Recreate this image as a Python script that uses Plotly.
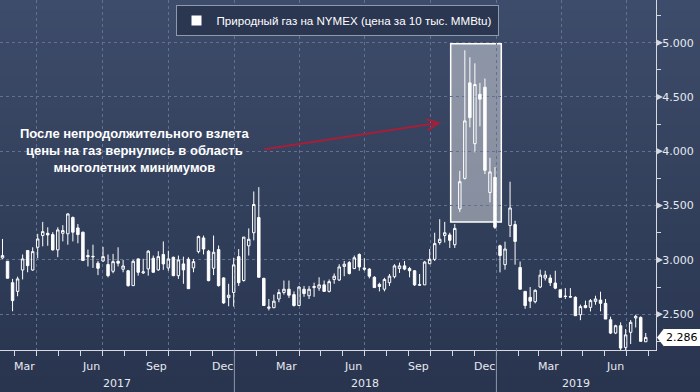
import base64, struct, zlib
import pandas as pd
import plotly.graph_objects as go

# ---------------- data (weekly NYMEX natural gas) ----------------
first_week = "2017-02-12"
open_ = [3.018, 2.987, 2.79, 2.71, 2.907, 3.086, 2.907, 3.116, 3.224, 3.245,
         3.233, 3.092, 3.245, 3.24, 3.39, 3.294, 3.255, 3.04, 3.028, 2.97,
         2.99, 2.957, 2.895, 2.987, 2.914, 2.90, 2.763, 3.009, 2.88, 2.917,
         3.015, 2.908, 3.05, 2.926, 3.024, 2.855, 2.963, 3.006, 2.926, 3.076,
         3.202, 3.08, 2.923, 3.095, 2.834, 2.653, 2.70, 3.03, 2.81, 3.13,
         3.25, 3.39, 2.83, 2.555, 2.56, 2.64, 2.70, 2.73, 2.68, 2.58,
         2.73, 2.67, 2.745, 2.74, 2.77, 2.71, 2.82, 2.815, 2.94, 2.975,
         2.92, 3.05, 2.925, 2.915, 2.84, 2.775, 2.73, 2.79, 2.845, 2.92,
         2.945, 2.92, 2.90, 2.772, 2.77, 2.965, 3.005, 3.16, 3.225, 3.23,
         3.14, 3.47, 3.75, 4.63, 4.07, 4.525, 4.59, 3.62, 3.76, 3.13,
         2.956, 3.316, 3.325, 2.93, 2.71, 2.655, 2.615, 2.75, 2.833, 2.833,
         2.787, 2.725, 2.667, 2.662, 2.655, 2.495, 2.58, 2.563, 2.618, 2.63,
         2.60, 2.449, 2.326, 2.394, 2.194, 2.333, 2.465, 2.47, 2.246]
high = [3.193, 2.99, 2.825, 2.846, 3.05, 3.086, 3.116, 3.24, 3.35, 3.30,
        3.255, 3.30, 3.32, 3.43, 3.40, 3.33, 3.26, 3.095, 3.14, 2.99,
        3.12, 3.05, 3.055, 3.116, 3.0, 2.908, 3.0, 3.015, 3.01, 3.09,
        3.04, 3.08, 3.17, 3.085, 3.03, 3.04, 3.03, 3.024, 3.009, 3.224,
        3.224, 3.092, 3.224, 3.132, 2.84, 2.78, 3.02, 3.10, 3.21, 3.29,
        3.63, 3.67, 2.835, 2.64, 2.68, 2.73, 2.81, 2.81, 2.71, 2.76,
        2.76, 2.76, 2.79, 2.84, 2.81, 2.82, 2.875, 2.96, 2.99, 2.99,
        3.04, 3.06, 3.015, 2.925, 2.85, 2.79, 2.835, 2.87, 2.96, 2.975,
        2.99, 2.935, 2.905, 2.87, 2.99, 3.10, 3.25, 3.375, 3.35, 3.25,
        3.33, 3.82, 4.93, 4.865, 4.81, 4.63, 4.67, 3.94, 3.855, 3.14,
        3.168, 3.72, 3.36, 2.985, 2.71, 2.75, 2.73, 2.91, 2.90, 2.864,
        2.90, 2.725, 2.74, 2.74, 2.665, 2.588, 2.625, 2.64, 2.67, 2.707,
        2.64, 2.477, 2.403, 2.425, 2.363, 2.446, 2.495, 2.48, 2.327]
low = [3.009, 2.83, 2.527, 2.665, 2.82, 2.886, 2.90, 3.015, 3.125, 3.13,
       3.086, 3.025, 3.17, 3.14, 3.17, 3.153, 2.99, 2.94, 2.926, 2.86,
       2.98, 2.84, 2.877, 2.94, 2.886, 2.754, 2.76, 2.855, 2.87, 2.855,
       2.885, 2.90, 2.908, 2.90, 2.85, 2.825, 2.78, 2.733, 2.886, 3.06,
       3.05, 2.803, 2.86, 2.754, 2.595, 2.573, 2.57, 2.76, 2.80, 3.04,
       3.18, 2.84, 2.58, 2.535, 2.555, 2.61, 2.68, 2.65, 2.57, 2.575,
       2.66, 2.64, 2.66, 2.715, 2.71, 2.70, 2.78, 2.805, 2.85, 2.865,
       2.915, 2.90, 2.90, 2.83, 2.745, 2.71, 2.71, 2.76, 2.83, 2.88,
       2.905, 2.84, 2.76, 2.76, 2.77, 2.96, 2.99, 3.14, 3.16, 3.11,
       3.11, 3.44, 3.74, 4.22, 3.99, 4.23, 3.79, 3.53, 3.285, 2.885,
       2.91, 3.21, 2.956, 2.73, 2.55, 2.556, 2.60, 2.74, 2.81, 2.76,
       2.73, 2.655, 2.64, 2.655, 2.486, 2.445, 2.555, 2.525, 2.587, 2.526,
       2.455, 2.317, 2.317, 2.16, 2.16, 2.225, 2.378, 2.25, 2.246]
close = [3.04, 2.831, 2.625, 2.825, 3.009, 2.947, 3.076, 3.193, 3.26, 3.23,
         3.092, 3.276, 3.27, 3.423, 3.255, 3.233, 2.994, 3.03, 3.032, 2.923,
         3.03, 2.855, 2.984, 2.97, 2.944, 2.763, 2.987, 2.886, 2.89, 3.08,
         2.886, 3.03, 2.963, 3.009, 2.855, 3.0, 2.908, 2.735, 2.984, 3.215,
         3.10, 2.809, 3.07, 2.763, 2.604, 2.675, 2.954, 2.79, 3.21, 3.19,
         3.51, 2.84, 2.58, 2.565, 2.62, 2.70, 2.73, 2.675, 2.58, 2.75,
         2.69, 2.73, 2.755, 2.77, 2.71, 2.80, 2.85, 2.935, 2.96, 2.875,
         3.02, 2.935, 2.915, 2.85, 2.745, 2.755, 2.82, 2.85, 2.945, 2.945,
         2.915, 2.90, 2.77, 2.768, 2.98, 3.005, 3.15, 3.19, 3.25, 3.18,
         3.29, 3.72, 4.28, 4.31, 4.615, 4.48, 3.825, 3.81, 3.30, 3.04,
         3.10, 3.478, 3.17, 2.73, 2.58, 2.62, 2.72, 2.86, 2.86, 2.79,
         2.74, 2.655, 2.663, 2.658, 2.486, 2.57, 2.56, 2.625, 2.64, 2.60,
         2.455, 2.326, 2.394, 2.188, 2.31, 2.425, 2.48, 2.25, 2.286]
weeks = pd.date_range(first_week, periods=len(close), freq="7D")

y_ticks = [2.5, 3.0, 3.5, 4.0, 4.5, 5.0]
y_minor = [2.25, 2.75, 3.25, 3.75, 4.25, 4.75, 5.25]
month_labels = ["Mar", "Jun", "Sep", "Dec", "Mar", "Jun", "Sep", "Dec", "Mar", "Jun"]
month_dates = ["2017-03-15", "2017-06-15", "2017-09-15", "2017-12-15", "2018-03-15",
               "2018-06-15", "2018-09-15", "2018-12-15", "2019-03-15", "2019-06-15"]
year_labels = ["2017", "2018", "2019"]
year_starts = ["2018-01-01", "2019-01-01"]
legend_name = "Природный газ на NYMEX (цена за 10 тыс. MMBtu)"
note_text = ("После непродолжительного взлета<br>цены на газ вернулись в область"
             "<br>многолетних минимумов")
last_price = close[-1]
spike_box = dict(x0="2018-10-29 07:00", x1="2019-01-07 19:00", y0=3.35, y1=4.99)

X_RANGE = ["2017-02-08 12:00", "2019-08-11 07:00"]
Y_RANGE = [2.1703, 5.393]

FONT = "DejaVu Sans, Liberation Sans, sans-serif"
TXT = "#e6e9f0"
AXC = "#d6d9e0"
GRID = "#617191"


# ---------------- background gradient (tiny PNG) ----------------
def gradient_png(h, top, bot):
    raw = b""
    for i in range(h):
        t = i / (h - 1)
        raw += b"\x00" + bytes(int(round(a + (b - a) * t)) for a, b in zip(top, bot))

    def chunk(tag, data):
        return (struct.pack(">I", len(data)) + tag + data +
                struct.pack(">I", zlib.crc32(tag + data) & 0xFFFFFFFF))

    png = (b"\x89PNG\r\n\x1a\n" +
           chunk(b"IHDR", struct.pack(">IIBBBBB", 1, h, 8, 2, 0, 0, 0)) +
           chunk(b"IDAT", zlib.compress(raw)) + chunk(b"IEND", b""))
    return "data:image/png;base64," + base64.b64encode(png).decode()


bg_src = gradient_png(64, (61, 76, 106), (41, 53, 79))

fig = go.Figure()
fig.add_trace(go.Candlestick(
    x=weeks, open=open_, high=high, low=low, close=close,
    increasing=dict(line=dict(color="white", width=1), fillcolor="rgba(0,0,0,0)"),
    decreasing=dict(line=dict(color="white", width=1), fillcolor="white"),
    whiskerwidth=0, showlegend=False, hoverinfo="skip"))
fig.add_trace(go.Scatter(
    x=[None], y=[None], mode="markers", name=legend_name,
    marker=dict(symbol="square", size=10, color="white")))


def py(v):
    return (v - Y_RANGE[0]) / (Y_RANGE[1] - Y_RANGE[0])


PW = 656.0
PH = 350.0
shapes = []
shapes.append(dict(type="rect", xref="x", yref="y", layer="below",
                   fillcolor="rgba(255,255,255,0.42)",
                   line=dict(color="white", width=1.5), **spike_box))
for ys in year_starts:
    shapes.append(dict(type="line", xref="x", yref="paper", x0=ys, x1=ys,
                       y0=0, y1=-42 / PH, line=dict(color="#8d96a8", width=1)))
for v in y_ticks:
    yc = py(v)
    dy = 3.5 / PH
    shapes.append(dict(type="path", xref="paper", yref="paper",
                       path=f"M 1,{yc + dy} L {1 + 7 / PW},{yc} L 1,{yc - dy} Z",
                       fillcolor=AXC, line=dict(width=0)))
yc = py(last_price)
shapes.append(dict(type="path", xref="paper", yref="paper",
                   path=f"M {1 + 1 / PW},{yc} L {1 + 8 / PW},{yc + 9 / PH} "
                        f"L {1 + 8 / PW},{yc - 9 / PH} Z",
                   fillcolor="white", line=dict(width=0)))

annotations = []
for lab, d in zip(month_labels, month_dates):
    annotations.append(dict(x=d, y=-17 / PH, xref="x", yref="paper", text=lab,
                            showarrow=False, xanchor="center", yanchor="middle",
                            font=dict(family=FONT, size=11, color=TXT)))
bounds = [pd.Timestamp(X_RANGE[0])] + [pd.Timestamp(s) for s in year_starts] + \
         [pd.Timestamp(X_RANGE[1])]
for i, lab in enumerate(year_labels):
    mid = bounds[i] + (bounds[i + 1] - bounds[i]) / 2
    annotations.append(dict(x=mid, y=-33 / PH, xref="x", yref="paper", text=lab,
                            showarrow=False, xanchor="center", yanchor="middle",
                            font=dict(family=FONT, size=11, color=TXT)))
annotations.append(dict(x=134 / PW, y=(PH - 151) / PH, xref="paper", yref="paper",
                        text="<b>" + note_text + "</b>", showarrow=False,
                        xanchor="center", yanchor="middle", align="center",
                        font=dict(family="Liberation Sans, Arial, sans-serif",
                                  size=13, color="white")))
annotations.append(dict(x=440.7 / PW, y=(PH - 122.7) / PH, xref="paper", yref="paper",
                        text="", showarrow=True, ax=-177.7, ay=26.8,
                        arrowhead=5, arrowsize=1.1, arrowwidth=2,
                        arrowcolor="#a61f38", standoff=0))
annotations.append(dict(x=1, y=last_price, xref="paper", yref="y",
                        text=f"{last_price:.3f}", showarrow=False,
                        xanchor="left", yanchor="middle", xshift=8,
                        bgcolor="white", bordercolor="white", borderpad=1,
                        font=dict(family=FONT, size=11, color="black")))

quarters = ["2017-04-01", "2017-07-01", "2017-10-01", "2018-01-01", "2018-04-01",
            "2018-07-01", "2018-10-01", "2019-01-01", "2019-04-01", "2019-07-01"]
months = pd.date_range("2017-03-01", "2019-08-01", freq="MS")

fig.update_layout(
    width=700, height=392,
    margin=dict(l=0, r=44, t=0, b=42),
    paper_bgcolor="#333f5c", plot_bgcolor="rgba(0,0,0,0)",
    images=[dict(source=bg_src, xref="paper", yref="paper", x=0, y=1,
                 sizex=700 / PW, sizey=392 / PH, xanchor="left", yanchor="top",
                 sizing="stretch", layer="below")],
    shapes=shapes, annotations=annotations,
    showlegend=True,
    legend=dict(x=337 / PW, y=1 - 5 / PH, xanchor="center", yanchor="top",
                bgcolor="#2b3651", bordercolor="#8e99ad", borderwidth=1,
                itemwidth=30, font=dict(family="Liberation Sans, sans-serif",
                                        size=11.6, color="white")),
    xaxis=dict(type="date", range=X_RANGE, rangeslider=dict(visible=False),
               tickvals=quarters, ticktext=[""] * len(quarters),
               ticks="outside", ticklen=5, tickcolor=AXC,
               showgrid=True, gridcolor=GRID, griddash="3px,3px", gridwidth=1,
               minor=dict(tickvals=list(months), ticks="outside", ticklen=5,
                          tickcolor=AXC, showgrid=False),
               showline=True, linecolor=AXC, linewidth=1, zeroline=False,
               fixedrange=True),
    yaxis=dict(side="right", range=Y_RANGE, tickvals=y_ticks, tickformat=".3f",
               ticks="", ticklen=0, ticklabelstandoff=3,
               tickfont=dict(family=FONT, size=11, color=TXT),
               showgrid=True, gridcolor=GRID, griddash="3px,3px", gridwidth=1,
               minor=dict(tickvals=y_minor, ticks="outside", ticklen=4,
                          tickcolor=AXC, showgrid=False),
               showline=True, linecolor=AXC, linewidth=1, zeroline=False,
               fixedrange=True),
)

fig.write_html("out.html", config={"displayModeBar": False},
               post_script="document.body.style.margin='0px';")
